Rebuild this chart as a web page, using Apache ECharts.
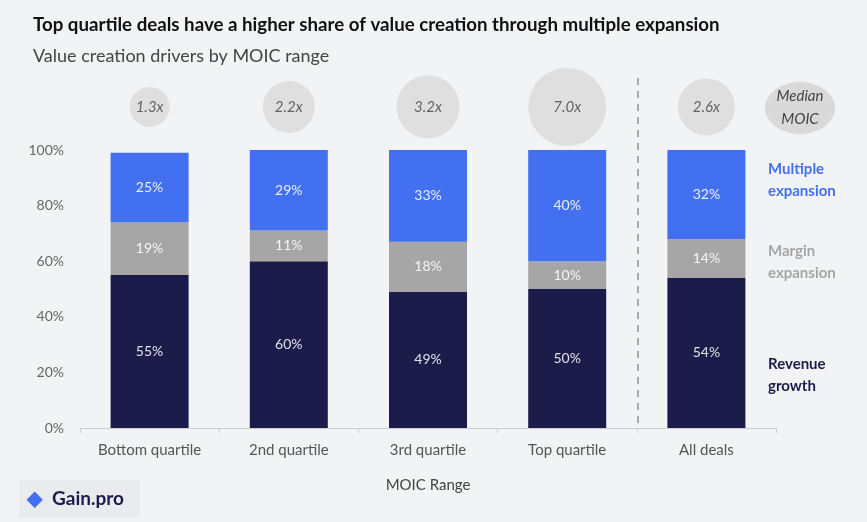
<!DOCTYPE html>
<html><head><meta charset="utf-8">
<script src="https://cdn.jsdelivr.net/npm/echarts@6/dist/echarts.min.js"></script>
<style>html,body{margin:0;background:#f2f3f5}#c{width:867px;height:522px}</style>
</head><body><div id="c"></div>
<script>
const categories=['Bottom quartile','2nd quartile','3rd quartile','Top quartile','All deals'];
const revenue=[55,60,49,50,54];
const margin=[19,11,18,10,14];
const multiple=[25,29,33,40,32];
const moic=['1.3x','2.2x','3.2x','7.0x','2.6x'];
const moicSize=[40,52,63,78,57];
const F='Lato,"Noto Sans",sans-serif';
const c=echarts.init(document.getElementById('c'));
const lab=(col)=>({show:true,position:'inside',color:col,fontFamily:F,fontSize:14,formatter:p=>p.value+'%'});
c.setOption({
backgroundColor:'#f2f3f5',animation:false,
title:[{text:'Top quartile deals have a higher share of value creation through multiple expansion',left:28,top:10,textStyle:{fontFamily:F,fontSize:18.7,fontWeight:'bold',color:'#111'}},
{text:'Value creation drivers by MOIC range',left:28,top:42,textStyle:{fontFamily:F,fontSize:18,fontWeight:'normal',color:'#444'}}],
grid:{left:80,right:91,top:150,bottom:94},
xAxis:{type:'category',data:categories,name:'MOIC Range',nameLocation:'middle',nameGap:50,nameTextStyle:{fontFamily:F,fontSize:15,color:'#444'},
axisLine:{lineStyle:{color:'#ccc'}},axisTick:{show:true,lineStyle:{color:'#ccc'}},axisLabel:{interval:0,fontFamily:F,fontSize:15,color:'#555',margin:15}},
yAxis:{type:'value',min:0,max:100,interval:20,splitLine:{show:false},axisLabel:{formatter:'{value}%',fontFamily:F,fontSize:14,color:'#666',margin:16}},
series:[
{type:'bar',stack:'a',data:revenue,barWidth:78,itemStyle:{color:'#1c1c4a'},label:lab('#e0e0e8')},
{type:'bar',stack:'a',data:margin,itemStyle:{color:'#a6a6a6'},label:lab('#f4f4f4')},
{type:'bar',stack:'a',data:multiple,itemStyle:{color:'#4370f0'},label:lab('#e8eeff')},
{type:'scatter',clip:false,data:moic.map((m,i)=>({value:[i,115.5],symbolSize:moicSize[i],name:m})),itemStyle:{color:'#d9d9d9'},
label:{show:true,position:'inside',formatter:p=>p.name,fontFamily:F,fontStyle:'italic',fontSize:15,color:'#444'}}
],
graphic:[
{type:'line',shape:{x1:638,y1:78,x2:638,y2:428},style:{stroke:'#aaa',lineWidth:2,lineDash:[7,6]}},
{type:'ellipse',shape:{cx:800,cy:108,rx:35,ry:26},style:{fill:'#d9d9d9'}},
{type:'text',x:800,y:108,style:{text:'Median\nMOIC',align:'center',verticalAlign:'middle',font:'italic 15px '+F,fill:'#444',lineHeight:23}},
{type:'text',x:768,y:180,style:{text:'Multiple\nexpansion',verticalAlign:'middle',font:'bold 15px '+F,fill:'#4370f0',lineHeight:22}},
{type:'text',x:768,y:262,style:{text:'Margin\nexpansion',verticalAlign:'middle',font:'bold 15px '+F,fill:'#a6a6a6',lineHeight:22}},
{type:'text',x:768,y:375,style:{text:'Revenue\ngrowth',verticalAlign:'middle',font:'bold 15px '+F,fill:'#1c1c4a',lineHeight:22}},
{type:'rect',shape:{x:19,y:480,width:121,height:38},style:{fill:'#eaebef'}},
{type:'text',x:27,y:499,style:{text:'◆',verticalAlign:'middle',font:'bold 20px sans-serif',fill:'#4370f0'}},
{type:'text',x:52,y:499,style:{text:'Gain.pro',verticalAlign:'middle',font:'bold 19px '+F,fill:'#1c1c4a'}}
]});
</script></body></html>
